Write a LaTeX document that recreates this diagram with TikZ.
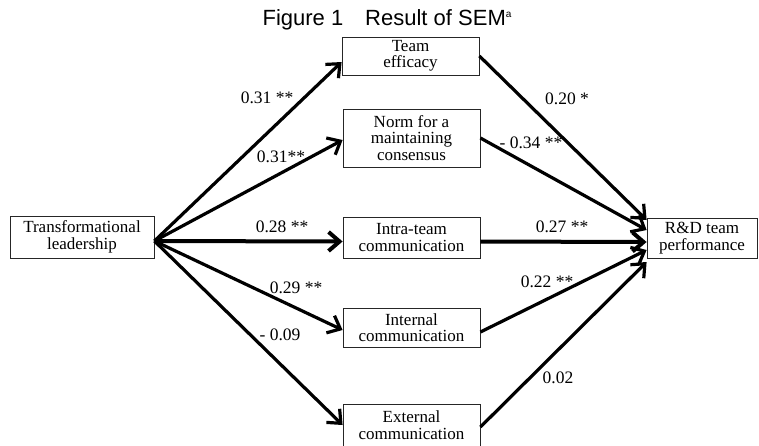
\documentclass[tikz,border=0pt]{standalone}
\usepackage{fontspec}
\setmainfont{Liberation Serif}
\newfontfamily\titlefont{Liberation Sans}
\usetikzlibrary{arrows.meta}
\begin{document}
\begin{tikzpicture}[x=1pt,y=-1pt,
  box/.style={draw=black!85, line width=0.8pt, inner sep=0pt, align=center,
    font=\fontsize{17}{16.5}\selectfont},
  conn/.style={line width=3.2pt, -{Straight Barb[length=11pt,width=19pt]}},
  hconn/.style={conn, line width=4pt},
  coef/.style={font=\fontsize{17.5}{16}\selectfont, inner sep=0pt}]
\useasboundingbox (0,0) rectangle (759,445);
% title
\node[font=\titlefont\fontsize{22}{22}\selectfont, anchor=base, inner sep=0pt] (title) at (387,25)
  {Figure 1\hspace{22pt}Result of SEM\raisebox{8pt}{\fontsize{10}{10}\selectfont a}};
% boxes
\node[box, minimum width=144pt, minimum height=42pt] (TL) at (82,237) {Transformational\\leadership};
\node[box, minimum width=137pt, minimum height=38pt] (TE) at (410.5,56) {Team\\efficacy};
\node[box, minimum width=137pt, minimum height=58pt] (NM) at (411.5,138) {Norm for a\\maintaining\\consensus};
\node[box, minimum width=137pt, minimum height=41pt] (IT) at (411.5,237.5) {Intra-team\\communication};
\node[box, minimum width=137pt, minimum height=39pt] (IN) at (411.5,327.5) {Internal\\communication};
\node[box, minimum width=137pt, minimum height=42pt] (EX) at (411.5,425) {External\\communication};
\node[box, minimum width=110pt, minimum height=40pt] (RD) at (702,238) {R\&D team\\performance};
% connectors from leadership
\draw[conn] ([yshift=-4pt]TL.east) -- ([yshift=-6pt]TE.west);
\draw[conn] ([yshift=-4pt]TL.east) -- ([yshift=-2pt]NM.west);
\draw[hconn] ([yshift=-4pt]TL.east) -- ([yshift=-4pt]IT.west);
\draw[conn] ([yshift=-4pt]TL.east) -- ([yshift=-2.5pt]IN.west);
\draw[conn] ([yshift=-4pt]TL.east) -- (EX.west);
% connectors to performance
\draw[conn] (TE.east) -- ([yshift=18pt]RD.west);
\draw[conn] (NM.east) -- ([yshift=8pt]RD.west);
\draw[hconn] ([yshift=-4pt]IT.east) -- ([yshift=-4pt]RD.west);
\draw[conn] ([yshift=-4.5pt]IN.east) -- ([yshift=-12pt]RD.west);
\draw[conn] ([yshift=-2pt]EX.east) -- ([yshift=-24pt]RD.west);
% coefficients
\node[coef] (c1) at (267,98) {0.31 **};
\node[coef] (c2) at (281,157) {0.31**};
\node[coef] (c3) at (282,227) {0.28 **};
\node[coef] (c4) at (296,288) {0.29 **};
\node[coef] (c5) at (280,335) {- 0.09};
\node[coef] (c6) at (567,99) {0.20 *};
\node[coef] (c7) at (531,143) {- 0.34 **};
\node[coef] (c8) at (562,227) {0.27 **};
\node[coef] (c9) at (547,282) {0.22 **};
\node[coef] (c10) at (558,378) {0.02};
\end{tikzpicture}
\end{document}
